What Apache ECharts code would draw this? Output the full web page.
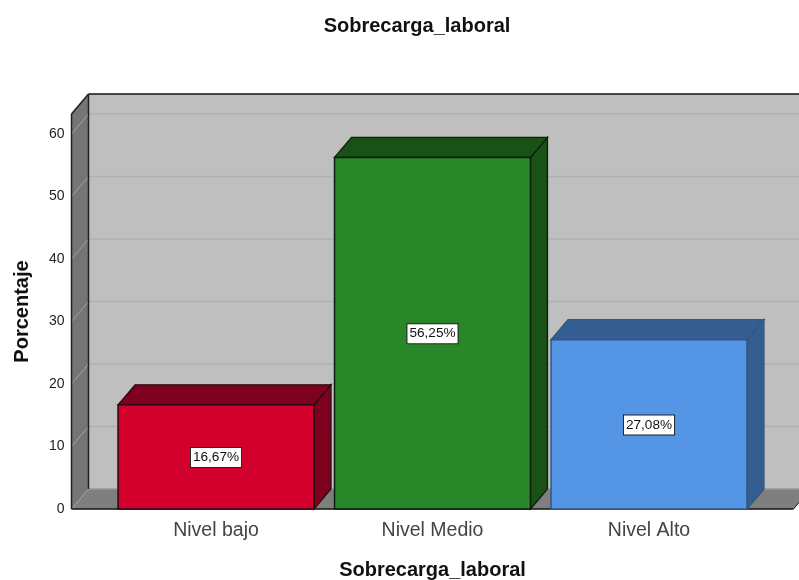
<!DOCTYPE html>
<html>
<head>
<meta charset="utf-8">
<style>html,body{margin:0;padding:0;background:#fff}#c{width:799px;height:580px}</style>
<script src="https://cdn.jsdelivr.net/npm/echarts@6/dist/echarts.min.js"></script>
</head>
<body>
<div id="c"></div>
<script>
const categories = ['Nivel bajo', 'Nivel Medio', 'Nivel Alto'];
const values = [16.67, 56.25, 27.08];
const valueLabels = ['16,67%', '56,25%', '27,08%'];
const yTicks = [0, 10, 20, 30, 40, 50, 60];
const frontColors = ['#d3002d', '#2a8729', '#5495e6'];
const sideColors = ['#7d001e', '#1a5116', '#345d92'];
const edgeColors = ['#2a0a10', '#0c1f0c', '#32587f'];
const DX = 17, DY = -20, PAD = 36.25, YMAX = 63.2;

const chart = echarts.init(document.getElementById('c'), null, {renderer: 'canvas'});

function poly(points, fill, stroke, lineWidth) {
  return {type: 'polygon', shape: {points}, style: {fill, stroke: stroke || null, lineWidth: lineWidth || 0}};
}
function seg(x1, y1, x2, y2, stroke, lineWidth) {
  return {type: 'line', shape: {x1, y1, x2, y2}, style: {stroke, lineWidth: lineWidth || 1}};
}

function renderFrame(params, api) {
  const cs = params.coordSys;
  const L = cs.x - PAD, R = cs.x + cs.width + PAD;
  const B = api.coord([0, 0])[1], T = api.coord([0, YMAX])[1];
  const children = [
    poly([[L + DX, T + DY], [R + DX, T + DY], [R + DX, B + DY], [L + DX, B + DY]], '#bfbfbf'),
    poly([[L, T], [L + DX, T + DY], [L + DX, B + DY], [L, B]], '#757575'),
    poly([[L, B], [L + DX, B + DY], [R + DX, B + DY], [R, B]], '#7f7f7f')
  ];
  yTicks.forEach(v => {
    const y = api.coord([0, v])[1];
    if (v > 0) children.push(seg(L + DX, y + DY, R + DX, y + DY, '#b1b1b1', 1.5));
    children.push(seg(L, y, L + DX, y + DY, '#a3a3a3', 1));
  });
  children.push(
    seg(L + DX, B + DY, R + DX, B + DY, '#9a9a9a', 1.5),
    seg(L + DX, T + DY, R + DX, T + DY, '#111', 1.5),
    seg(L + DX, T + DY, L + DX, B + DY, '#222', 1.5),
    seg(L, T, L + DX, T + DY, '#222', 1.5),
    seg(L, T, L, B, '#222', 1.5),
    seg(L, B, R, B, '#111', 1.5),
    seg(R, B, R + DX, B + DY, '#222', 1)
  );
  return {type: 'group', children};
}

function renderBar(params, api) {
  const i = api.value(0), v = api.value(1);
  const top = api.coord([i, v]), base = api.coord([i, 0]);
  const w = api.size([1, 0])[0] * 0.905;
  const x0 = top[0] - w / 2, x1 = top[0] + w / 2, yT = top[1], yB = base[1];
  const e = edgeColors[i];
  return {type: 'group', children: [
    poly([[x1, yT], [x1 + DX, yT + DY], [x1 + DX, yB + DY], [x1, yB]], sideColors[i], e, 1.3),
    poly([[x0, yT], [x0 + DX, yT + DY], [x1 + DX, yT + DY], [x1, yT]], sideColors[i], e, 1.3),
    poly([[x0, yT], [x1, yT], [x1, yB], [x0, yB]], frontColors[i], e, 1.5),
    {type: 'text', x: top[0], y: (yT + yB) / 2 + 0.5, z2: 10, style: {
      text: valueLabels[i], fill: '#111', font: '13.6px "Liberation Sans", Arial, sans-serif',
      align: 'center', verticalAlign: 'middle', backgroundColor: '#fff',
      borderColor: '#222', borderWidth: 1, padding: [3, 2, 2, 2]
    }}
  ]};
}

chart.setOption({
  animation: false,
  backgroundColor: '#fff',
  textStyle: {fontFamily: '"Liberation Sans", Arial, sans-serif'},
  title: {
    text: 'Sobrecarga_laboral', left: 412, top: 11, textAlign: 'center',
    textStyle: {fontSize: 20, fontWeight: 'bold', color: '#111', fontFamily: '"Liberation Sans", Arial, sans-serif'}
  },
  grid: {left: 107.75, top: 114, width: 649.5, height: 395, containLabel: false, outerBoundsMode: 'none'},
  xAxis: {
    type: 'category', data: categories,
    axisLine: {show: false}, axisTick: {show: false}, splitLine: {show: false},
    axisLabel: {fontSize: 19.5, color: '#444', margin: 12},
    name: 'Sobrecarga_laboral', nameLocation: 'middle', nameGap: 51,
    nameTextStyle: {fontSize: 20, fontWeight: 'bold', color: '#111'}
  },
  yAxis: {
    type: 'value', min: 0, max: YMAX, offset: PAD,
    axisLine: {show: false}, axisTick: {show: false}, splitLine: {show: false},
    axisLabel: {fontSize: 14, color: '#222', margin: 7, customValues: yTicks, padding: [4, 0, 0, 0]},
    name: 'Porcentaje', nameLocation: 'middle', nameGap: 39, nameRotate: 90,
    nameTextStyle: {fontSize: 20, fontWeight: 'bold', color: '#111'}
  },
  series: [
    {type: 'custom', silent: true, z: 1, clip: false, data: [[0, 0]], renderItem: renderFrame},
    {type: 'custom', silent: true, z: 2, clip: false,
     data: values.map((v, i) => [i, v]), encode: {x: 0, y: 1}, renderItem: renderBar}
  ]
});
</script>
</body>
</html>
